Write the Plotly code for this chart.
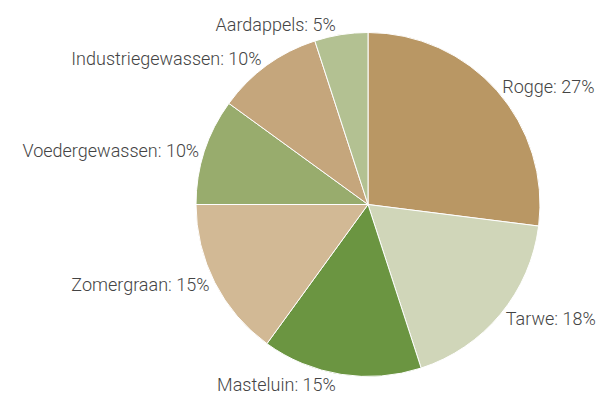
import plotly.graph_objects as go

labels = ["Rogge", "Tarwe", "Masteluin", "Zomergraan", "Voedergewassen", "Industriegewassen", "Aardappels"]
values = [27, 18, 15, 15, 10, 10, 5]
colors = ["#B99764", "#D0D6B9", "#6B9541", "#D2B995", "#98AC6D", "#C5A67C", "#B3C192"]

W, H = 610, 407
off = 8  # page body margin
cx, cy, r = 368 - off, 204.5 - off, 172

fig = go.Figure(go.Pie(
    labels=labels,
    values=values,
    sort=False,
    direction="clockwise",
    rotation=0,
    marker=dict(colors=colors, line=dict(color="white", width=1)),
    texttemplate="%{label}: %{value}%",
    textposition="outside",
    textfont=dict(family="Roboto Light, Roboto", size=18, color="#444444", weight=300),
    hoverinfo="label+value",
    showlegend=False,
    domain=dict(x=[(cx - r) / W, (cx + r) / W], y=[1 - (cy + r) / H, 1 - (cy - r) / H]),
))

fig.update_layout(
    width=W, height=H,
    margin=dict(l=0, r=0, t=0, b=0),
    paper_bgcolor="white",
    plot_bgcolor="white",
)

fig.write_html("out.html")
